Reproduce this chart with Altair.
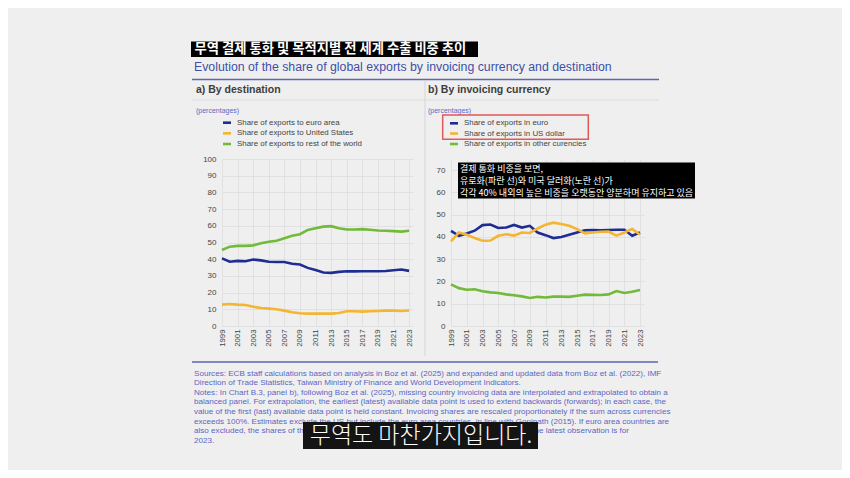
import altair as alt
import pandas as pd

years = list(range(1999, 2024))
tick_years = list(range(1999, 2024, 2))

# Panel a) By destination (percentages)
dest_labels = ["Share of exports to euro area",
               "Share of exports to United States",
               "Share of exports to rest of the world"]
dest_euro_area = [40.5, 38.5, 39.0, 38.8, 39.8, 39.3, 38.5, 38.3, 38.3, 37.3, 36.8, 34.8, 33.5,
                  32.0, 31.8, 32.4, 32.8, 32.7, 32.8, 32.8, 32.8, 32.9, 33.4, 33.8, 33.0]
dest_us = [12.8, 13.2, 12.8, 12.6, 11.5, 10.8, 10.4, 10.0, 9.2, 8.2, 7.6, 7.4, 7.4,
           7.4, 7.4, 7.8, 8.8, 8.8, 8.6, 8.8, 9.0, 9.2, 9.2, 9.0, 9.3]
dest_rest = [45.5, 47.5, 48.0, 48.0, 48.3, 49.5, 50.5, 51.0, 52.5, 54.0, 55.0, 57.5, 58.5,
             59.5, 59.8, 58.5, 57.8, 57.8, 58.0, 57.6, 57.2, 57.0, 56.8, 56.5, 57.0]

# Panel b) By invoicing currency (percentages)
cur_labels = ["Share of exports in euro",
              "Share of exports in US dollar",
              "Share of exports in other curencies"]
cur_euro = [42.7, 40.5, 41.5, 42.8, 45.3, 45.6, 44.0, 44.2, 45.4, 44.2, 45.0, 42.0, 40.8,
            39.5, 40.0, 41.0, 42.0, 43.0, 43.1, 43.0, 43.1, 43.2, 43.2, 40.5, 42.0]
cur_usd = [38.0, 42.0, 41.0, 39.5, 38.3, 38.4, 40.5, 41.2, 40.6, 42.0, 41.8, 43.8, 45.5,
           46.4, 45.8, 45.0, 43.5, 41.6, 42.0, 42.3, 42.4, 40.6, 42.0, 43.6, 41.0]
cur_other = [18.7, 17.0, 16.3, 16.5, 15.6, 15.1, 14.8, 14.2, 13.8, 13.3, 12.6, 13.1, 12.8,
             13.2, 13.2, 13.1, 13.6, 14.1, 14.0, 13.9, 14.2, 15.7, 14.8, 15.4, 16.2]

y_ticks_a = list(range(0, 101, 10))
y_ticks_b = list(range(0, 71, 10))

title_ko = "무역 결제 통화 및 목적지별 전 세계 수출 비중 추이"
subtitle_en = "Evolution of the share of global exports by invoicing currency and destination"
head_a = "a) By destination"
head_b = "b) By invoicing currency"
unit_txt = "(percentages)"
note_ko = ["결제 통화 비중을 보면,",
           "유로화(파란 선)와 미국 달러화(노란 선)가",
           "각각 40% 내외의 높은 비중을 오랫동안 양분하며 유지하고 있음"]
caption_ko = "무역도 마찬가지입니다."
foot_lines = [
    "Sources: ECB staff calculations based on analysis in Boz et al. (2025) and expanded and updated data from Boz et al. (2022), IMF",
    "Direction of Trade Statistics, Taiwan Ministry of Finance and World Development Indicators.",
    "Notes: In Chart B.3, panel b), following Boz et al. (2025), missing country invoicing data are interpolated and extrapolated to obtain a",
    "balanced panel. For extrapolation, the earliest (latest) available data point is used to extend backwards (forwards); in each case, the",
    "value of the first (last) available data point is held constant. Invoicing shares are rescaled proportionately if the sum across currencies",
    "exceeds 100%. Estimates exclude the US but include the euro area countries, in line with Gopinath (2015). If euro area countries are",
]
foot_7a = "also excluded, the shares of the"
foot_7b = "respectively. The latest observation is for"
foot_8 = "2023."

COLORS = ["#1f2d93", "#f3b532", "#72ba3a"]
SANS = "Liberation Sans"
KR = "Noto Sans CJK KR"
BLUE_TXT = "#3f4fa8"
FOOT_TXT = "#5a66c4"
FOOT_SIZE = 8.1
LEG_SIZE = 7.9


def long_df(labels, series):
    rows = []
    for lab, vals in zip(labels, series):
        for yr, v in zip(years, vals):
            rows.append({"year": yr, "value": v, "series": lab})
    return pd.DataFrame(rows)


ONE = pd.DataFrame({"k": [0]})


def txt(text, x, y, size, color, weight="normal", font=SANS, align="left"):
    return alt.Chart(ONE).mark_text(text=text, fontSize=size, color=color, fontWeight=weight,
                                    font=font, align=align, baseline="middle").encode(
        x=alt.value(x), y=alt.value(y))


def box(x, x2, y, y2, **kw):
    return alt.Chart(ONE).mark_rect(**kw).encode(
        x=alt.value(x), x2=alt.value(x2), y=alt.value(y), y2=alt.value(y2))


def hline(x, x2, y, color, width):
    return alt.Chart(ONE).mark_rule(color=color, strokeWidth=width).encode(
        x=alt.value(x), x2=alt.value(x2), y=alt.value(y))


def vline(x, y, y2, color, width):
    return alt.Chart(ONE).mark_rule(color=color, strokeWidth=width).encode(
        x=alt.value(x), y=alt.value(y), y2=alt.value(y2))


def line_chart(df, labels, ymax, yticks, w, h):
    return alt.Chart(df).mark_line(strokeWidth=2.6).encode(
        x=alt.X("year:Q",
                scale=alt.Scale(domain=[1999, 2023.5], nice=False, zero=False),
                axis=alt.Axis(values=tick_years, format="d", labelAngle=-90, title=None,
                              domain=False, ticks=False, labelPadding=3, labelFontSize=7.8,
                              labelColor="#444444", labelFont=SANS, grid=True,
                              gridColor="#dddddd", gridWidth=0.8)),
        y=alt.Y("value:Q",
                scale=alt.Scale(domain=[0, ymax], nice=False),
                axis=alt.Axis(values=yticks, title=None, domain=False, ticks=False,
                              labelPadding=6, labelFontSize=8, labelColor="#444444",
                              labelFont=SANS, grid=True, gridColor="#dddddd", gridWidth=0.8)),
        color=alt.Color("series:N", scale=alt.Scale(domain=labels, range=COLORS), legend=None),
        detail="series:N",
    ).properties(width=w, height=h)


# panel a origin in the picture: (222, 159); panel b origin: (451, 159)
AX, AY = 222, 159
BX, BY = 451, 159
W_A, W_B, H = 191, 193, 167


def ax(x):
    return x - AX


def ay(y):
    return y - AY


def bx(x):
    return x - BX


deco_a = [
    box(ax(8), ax(842), ay(8), ay(470), color="#ffffff", opacity=0),
    box(ax(191), ax(478), ay(41.5), ay(57), color="#000000"),
    txt(title_ko, ax(194.5), ay(49.3), 13.3, "#ffffff", "bold", KR),
    txt(subtitle_en, ax(194), ay(66.5), 12.3, BLUE_TXT),
    hline(ax(192), ax(659), ay(79.5), "#5b66b5", 1.4),
    vline(ax(425), ay(80), ay(356), "#cfcfcf", 0.8),
    hline(ax(192), ax(659), ay(100), "#d8d8d8", 0.8),
    txt(head_a, ax(196), ay(90), 10.5, "#3d3d3d", "bold"),
    txt(head_b, ax(428), ay(90), 10.5, "#3d3d3d", "bold"),
    txt(unit_txt, ax(196), ay(110.5), 7.0, "#5a68c8"),
    txt(unit_txt, ax(428), ay(110.5), 7.0, "#5a68c8"),
]
for i, lab in enumerate(dest_labels):
    yy = ay([122.7, 133.3, 144][i])
    deco_a.append(hline(ax(223), ax(231), yy, COLORS[i], 2.6))
    deco_a.append(txt(lab, ax(237), yy, LEG_SIZE, "#444444"))

foot = [hline(ax(192), ax(658), ay(362), "#5b66b5", 1.4)]
for i, ln in enumerate(foot_lines):
    foot.append(txt(ln, ax(194), ay(373.5 + 9.6 * i), FOOT_SIZE, FOOT_TXT))
foot.append(txt(foot_7a, ax(194), ay(373.5 + 9.6 * 6), FOOT_SIZE, FOOT_TXT))
foot.append(txt(foot_7b, ax(629), ay(373.5 + 9.6 * 6), FOOT_SIZE, FOOT_TXT, align="right"))
foot.append(txt(foot_8, ax(194), ay(373.5 + 9.6 * 7), FOOT_SIZE, FOOT_TXT))
foot.append(box(ax(303), ax(538), ay(422), ay(449), color="#141414"))
foot.append(txt(caption_ko, ax(421), ay(435.5), 23, "#ffffff", 300, KR, align="center"))

panel_a = alt.layer(
    *deco_a,
    line_chart(long_df(dest_labels, [dest_euro_area, dest_us, dest_rest]), dest_labels, 100,
               y_ticks_a, W_A, H),
    *foot,
).properties(width=W_A, height=H)

deco_b = []
for i, lab in enumerate(cur_labels):
    yy = ay([123.3, 133.5, 144][i])
    deco_b.append(hline(bx(450), bx(458), yy, COLORS[i], 2.6))
    deco_b.append(txt(lab, bx(464), yy, LEG_SIZE, "#444444"))
deco_b.append(box(bx(442.7), bx(588.3), ay(115), ay(139.3), filled=False,
                  stroke="#e05a5a", strokeWidth=1.5))

note_b = [box(bx(458), bx(695), ay(162.5), ay(198.5), color="#000000")]
for i, ln in enumerate(note_ko):
    note_b.append(txt(ln, bx(460), ay([169, 181, 193][i]), 9.0, "#ffffff", "normal", KR))

panel_b = alt.layer(
    *deco_b,
    line_chart(long_df(cur_labels, [cur_euro, cur_usd, cur_other]), cur_labels, 75,
               y_ticks_b, W_B, H),
    *note_b,
).properties(width=W_B, height=H)

chart = alt.hconcat(panel_a, panel_b, spacing=BX - AX - W_A, bounds="flush").resolve_scale(
    color="independent"
).properties(
    padding=0, background="#efefef"
).configure_view(strokeWidth=0)

chart.save("out.html", embed_options={"renderer": "svg", "actions": False})
